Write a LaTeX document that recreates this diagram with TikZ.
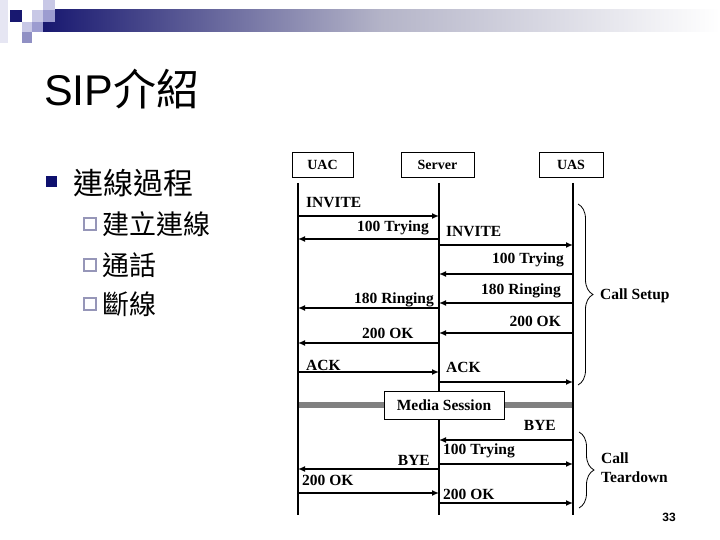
\documentclass[tikz,border=0pt]{standalone}
\usepackage{fontspec}
\setmainfont{Liberation Serif}
\newfontfamily\cjk{Noto Sans CJK TC}
\newfontfamily\arialf{Liberation Sans}
\usetikzlibrary{arrows.meta,decorations.pathreplacing}
\definecolor{navyc}{RGB}{24,24,112}
\definecolor{bulletc}{RGB}{14,16,110}
\definecolor{lightsq}{RGB}{200,200,230}
\definecolor{medsq}{RGB}{156,156,208}
\definecolor{meddk}{RGB}{144,144,196}
\definecolor{palesq}{RGB}{230,230,243}
\definecolor{midbar}{RGB}{180,180,200}
\definecolor{hollowc}{RGB}{150,150,184}
\definecolor{barc}{RGB}{128,128,128}
\tikzset{
  box/.style={draw, line width=0.9pt, fill=white, inner sep=0pt,
    font=\fontsize{14}{14}\selectfont\bfseries},
  life/.style={line width=1.8pt},
  msg/.style={line width=1.8pt, -{Latex[length=7pt,width=6pt]}},
  lbl/.style={inner sep=0pt, font=\fontsize{15.5}{16}\selectfont\bfseries},
  brc/.style={line width=0.8pt, decorate, decoration={brace, amplitude=15pt}},
  cjkmain/.style={inner sep=0pt, anchor=west, font=\cjk\fontsize{30}{30}\selectfont},
  cjksub/.style={inner sep=0pt, anchor=west, font=\cjk\fontsize{27}{27}\selectfont},
  hollow/.style={draw=hollowc, line width=1.3pt, fill=white, minimum size=12pt, inner sep=0pt},
}
\begin{document}
\begin{tikzpicture}[x=1pt, y=-1pt]
\useasboundingbox (0,0) rectangle (720,540);
% header decoration
\fill[palesq] (0,0) rectangle (8,43);
\shade[left color=navyc, right color=white, middle color=midbar] (43,10) rectangle (720,32);
\fill[navyc] (10,10) rectangle (22,22);
\fill[lightsq] (32,10) rectangle (43,22);
\fill[lightsq] (43,0) rectangle (55,10);
\fill[medsq] (43,10) rectangle (55,22);
\fill[lightsq] (22,22) rectangle (32,32);
\fill[medsq] (32,22) rectangle (43,32);
\fill[meddk] (22,32) rectangle (32,43);
% title
\node[inner sep=0pt, anchor=base west] (title) at (44,106)
  {\fontsize{43}{43}\selectfont\arialf SIP\cjk 介紹};
% bullets
\node[fill=bulletc, minimum size=11pt, inner sep=0pt] (b0) at (51,182) {};
\node[cjkmain] (t0) at (73,183) {連線過程};
\node[hollow] (b1) at (90,224) {};
\node[cjksub] (t1) at (102,224) {建立連線};
\node[hollow] (b2) at (90,265) {};
\node[cjksub] (t2) at (102,265) {通話};
\node[hollow] (b3) at (90,304) {};
\node[cjksub] (t3) at (102,304) {斷線};
% entity boxes
\node[box, minimum width=61pt, minimum height=25pt] (uac) at (322.5,164.5) {UAC};
\node[box, minimum width=73pt, minimum height=25pt] (srv) at (437.5,164.5) {Server};
\node[box, minimum width=64pt, minimum height=25pt] (uas) at (571,164.5) {UAS};
% lifeline ends
\coordinate (uacT) at (298,183); \coordinate (uacB) at (298,515);
\coordinate (srvT) at (439,183); \coordinate (srvB) at (439,515);
\coordinate (uasT) at (573,183); \coordinate (uasB) at (573,515);
% media bar
\draw[barc, line width=5.5pt] (uacT |- 0,405) -- (uasT |- 0,405);
\draw[life] (uacT) -- (uacB);
\draw[life] (srvT) -- (srvB);
\draw[life] (uasT) -- (uasB);
\node[box, minimum width=120pt, minimum height=28pt, font=\fontsize{15.5}{16}\selectfont\bfseries] (media) at (444,405) {Media Session};
% messages
\draw[msg] (uacT |- 0,216) -- (srvT |- 0,216);
\node[lbl, anchor=west] (l1) at (306,203) {INVITE};
\draw[msg] (srvT |- 0,239) -- (uacT |- 0,239);
\node[lbl, anchor=east] (l2) at (429,228) {100 Trying};
\draw[msg] (srvT |- 0,245) -- (uasT |- 0,245);
\node[lbl, anchor=west] (l3) at (446,232) {INVITE};
\draw[msg] (uasT |- 0,274) -- (srvT |- 0,274);
\node[lbl, anchor=east] (l4) at (564,260) {100 Trying};
\draw[msg] (uasT |- 0,303) -- (srvT |- 0,303);
\node[lbl, anchor=east] (l5) at (561,291) {180 Ringing};
\draw[msg] (srvT |- 0,308) -- (uacT |- 0,308);
\node[lbl, anchor=east] (l6) at (434,300) {180 Ringing};
\draw[msg] (uasT |- 0,333) -- (srvT |- 0,333);
\node[lbl, anchor=east] (l7) at (561,321) {200 OK};
\draw[msg] (srvT |- 0,343) -- (uacT |- 0,343);
\node[lbl, anchor=west] (l8) at (362,333) {200 OK};
\draw[msg] (uacT |- 0,372) -- (srvT |- 0,372);
\node[lbl, anchor=west] (l9) at (306,365) {ACK};
\draw[msg] (srvT |- 0,382) -- (uasT |- 0,382);
\node[lbl, anchor=west] (l10) at (446,367) {ACK};
\draw[msg] (uasT |- 0,440) -- (srvT |- 0,440);
\node[lbl, anchor=east] (l11) at (556,425) {BYE};
\draw[msg] (srvT |- 0,464) -- (uasT |- 0,464);
\node[lbl, anchor=west] (l12) at (443,451) {100 Trying};
\draw[msg] (srvT |- 0,469) -- (uacT |- 0,469);
\node[lbl, anchor=east] (l13) at (430,460) {BYE};
\draw[msg] (uacT |- 0,493) -- (srvT |- 0,493);
\node[lbl, anchor=west] (l14) at (302,480) {200 OK};
\draw[msg] (srvT |- 0,503) -- (uasT |- 0,503);
\node[lbl, anchor=west] (l15) at (443,494) {200 OK};
% braces
\coordinate (s1) at (578,204); \coordinate (s2) at (578,385);
\draw[brc] (s1) -- (s2);
\node[lbl, anchor=west] (setup) at (600,296) {Call Setup};
\coordinate (d1) at (579,432); \coordinate (d2) at (579,508);
\draw[brc] (d1) -- (d2);
\node[lbl, anchor=west] (td1) at (601,458) {Call};
\node[lbl, anchor=west] (td2) at (601,477) {Teardown};
% page number
\node[inner sep=0pt, font=\arialf\bfseries\fontsize{12}{12}\selectfont] (pg) at (669,517) {33};
\end{tikzpicture}
\end{document}
